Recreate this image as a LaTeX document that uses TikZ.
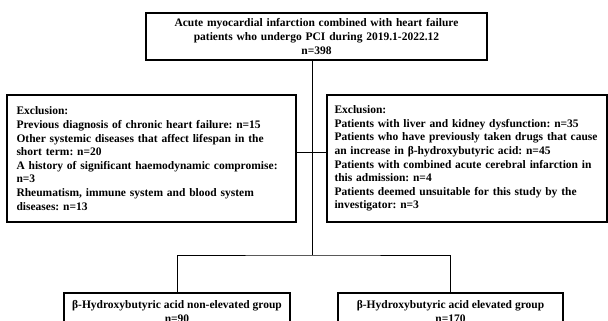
\documentclass[tikz,border=0pt]{standalone}
\usepackage{fontspec}
\setmainfont{Liberation Serif}
\frenchspacing
\newcommand{\fullline}[2]{\makebox[#1][s]{#2}}
\begin{document}
\begin{tikzpicture}[x=1pt,y=-1pt,
  box/.style={draw, line width=1.1pt, inner sep=0pt, font=\bfseries\fontsize{11.5}{13.6}\selectfont},
  link/.style={line width=0.9pt}]
\clip (0,0) rectangle (608,321);
\node[box, minimum width=341pt, minimum height=47pt, text width=330pt, align=center] (top) at (316.5,36.5)
  {Acute myocardial infarction combined with heart failure\\patients who undergo PCI during 2019.1-2022.12\\n=398};
\node[box, minimum width=289pt, minimum height=127pt, text width=270pt, align=left] (exl) at (151.5,158.5)
  {Exclusion:\\
   Previous diagnosis of chronic heart failure: n=15\\
   \fullline{270pt}{Other systemic diseases that affect lifespan in the}\\
   short term: n=20\\
   \fullline{270pt}{A history of significant haemodynamic compromise:}\\
   n=3\\
   \fullline{270pt}{Rheumatism, immune system and blood system}\\
   diseases: n=13};
\node[box, minimum width=280pt, minimum height=127pt, text width=265pt, align=left] (exr) at (467,158.5)
  {Exclusion:\\
   Patients with liver and kidney dysfunction: n=35\\
   \fullline{265pt}{Patients who have previously taken drugs that cause}\\
   an increase in β-hydroxybutyric acid: n=45\\
   \fullline{265pt}{Patients with combined acute cerebral infarction in}\\
   this admission: n=4\\
   \fullline{265pt}{Patients deemed unsuitable for this study by the}\\
   investigator: n=3};
\node[box, minimum width=226pt, minimum height=37pt, align=center] (g1) at (177,311.5)
  {β-Hydroxybutyric acid non-elevated group\\n=90};
\node[box, minimum width=225pt, minimum height=37pt, align=center] (g2) at (450.5,311.5)
  {β-Hydroxybutyric acid elevated group\\n=170};
\coordinate (split) at (312,255);
\coordinate (hy) at (312,152);
\draw[link] (top.south -| split) -- (split);
\draw[link] (exl.east |- hy) -- (exr.west |- hy);
\draw[link] (g1.north) |- (split) -| (g2.north);
\end{tikzpicture}
\end{document}
